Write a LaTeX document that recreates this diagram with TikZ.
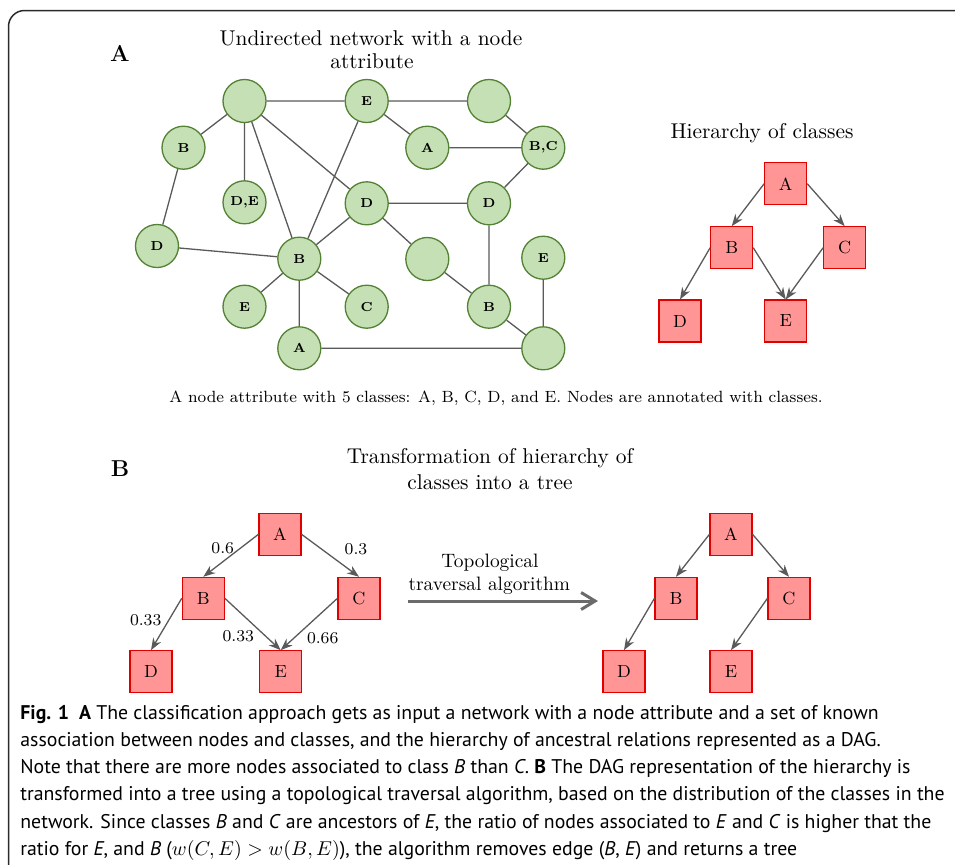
\documentclass[tikz,border=0pt]{standalone}
\usepackage{fontspec}
\newfontfamily\capfont{PT Sans}
\usetikzlibrary{arrows.meta}
\definecolor{gfill}{HTML}{C5E0B4}
\definecolor{gline}{HTML}{548235}
\definecolor{rfill}{HTML}{FF9595}
\definecolor{rline}{HTML}{E00000}
\definecolor{eline}{HTML}{5A5A5A}
\definecolor{frame}{HTML}{2A2A2A}
\begin{document}
\begin{tikzpicture}[x=0.5pt,y=-0.5pt,
  gnode/.style={circle,draw=gline,fill=gfill,line width=0.65pt,minimum size=21.5pt,inner sep=0pt,font=\fontsize{6.5}{7.5}\selectfont\bfseries},
  cbox/.style={rectangle,draw=rline,fill=rfill,line width=0.55pt,minimum size=21pt,inner sep=0pt,font=\fontsize{8.8}{10}\selectfont},
  gedge/.style={draw=eline,line width=0.65pt},
  darr/.style={draw=eline,line width=0.65pt,-{Stealth[length=6pt,width=4.5pt]}},
  ttl/.style={anchor=base,inner sep=0pt,font=\fontsize{10.7}{12}\selectfont},
  panel/.style={anchor=base,inner sep=0pt,font=\fontsize{11.5}{13}\selectfont\bfseries},
  wlab/.style={inner sep=0pt,font=\fontsize{8.3}{10}\selectfont},
  capline/.style={anchor=base west,inner sep=0pt,font=\capfont\fontsize{9.9}{11}\selectfont}]
\clip (0,0) rectangle (955,864);
\fill[white] (0,0) rectangle (955,864);
\draw[frame,line width=0.75pt,rounded corners=8pt] (8.5,10.5) rectangle (1050,950);

% Panel A
\node[panel] (pa) at (120,61) {A};
\node[ttl] (t1) at (371,45) {Undirected network with a node};
\node[ttl] (t2) at (372,68) {attribute};

\node[gnode] (n1) at (244.5,101) {};
\node[gnode] (eT) at (366.7,101) {E};
\node[gnode] (n2) at (489,101) {};
\node[gnode] (bL) at (183.5,147.7) {B};
\node[gnode] (aM) at (427.3,147.7) {A};
\node[gnode] (bc) at (543.3,147.7) {B,C};
\node[gnode] (de) at (244.5,202.3) {D,E};
\node[gnode] (dM) at (366.7,203.3) {D};
\node[gnode] (dR) at (489,203.3) {D};
\node[gnode] (dL) at (157,246) {D};
\node[gnode] (bC) at (299.3,258.7) {B};
\node[gnode] (n3) at (427.3,259) {};
\node[gnode] (eR) at (543.3,257.7) {E};
\node[gnode] (eB) at (244.5,306.7) {E};
\node[gnode] (cN) at (366.7,306.7) {C};
\node[gnode] (bB) at (489,306.7) {B};
\node[gnode] (aB) at (299.3,348.3) {A};
\node[gnode] (n4) at (543.3,348.3) {};

\path[gedge] (n1) -- (eT) (n1) -- (bL) (n1) -- (de) (n1) -- (bC) (n1) -- (dM)
  (eT) -- (n2) (eT) -- (aM) (eT) -- (bC) (n2) -- (bc) (aM) -- (bc) (bc) -- (dR)
  (dM) -- (dR) (dM) -- (bC) (dM) -- (n3) (n3) -- (bB) (dR) -- (bB)
  (bL) -- (dL) (dL) -- (bC) (bC) -- (eB) (bC) -- (cN) (bC) -- (aB)
  (aB) -- (n4) (bB) -- (n4) (eR) -- (n4);

\node[wlab,anchor=base,font=\fontsize{8.13}{10}\selectfont] (capA) at (496,402) {A node attribute with 5 classes: A, B, C, D, and E. Nodes are annotated with classes.};

% Hierarchy
\node[ttl] (ht) at (762,138) {Hierarchy of classes};
\node[cbox] (hA) at (785.7,183.7) {A};
\node[cbox] (hB) at (731.7,247.7) {B};
\node[cbox] (hC) at (844.7,247.7) {C};
\node[cbox] (hD) at (680,321) {D};
\node[cbox] (hE) at (785.7,321) {E};
\draw[darr] (hA.west) -- (hB.north);
\draw[darr] (hA.east) -- (hC.north);
\draw[darr] (hB.west) -- (hD.north);
\draw[darr] (hB.east) -- (hE.north);
\draw[darr] (hC.west) -- (hE.north);

% Panel B
\node[panel] (pb) at (120,476) {B};
\node[ttl] (t3) at (490,463) {Transformation of hierarchy of};
\node[ttl] (t4) at (490,489) {classes into a tree};

\node[cbox] (lA) at (280,534.3) {A};
\node[cbox] (lB) at (203.3,598.3) {B};
\node[cbox] (lC) at (359,598.3) {C};
\node[cbox] (lD) at (151,671.7) {D};
\node[cbox] (lE) at (280.7,671.7) {E};
\draw[darr] (lA.west) -- (lB.north);
\draw[darr] (lA.east) -- (lC.north);
\draw[darr] (lB.west) -- (lD.north);
\draw[darr] (lB.east) -- (lE.north);
\draw[darr] (lC.west) -- (lE.north);
\node[wlab] (w1) at (222.7,547.7) {0.6};
\node[wlab] (w2) at (356,549.3) {0.3};
\node[wlab] (w3) at (145.7,620) {0.33};
\node[wlab] (w4) at (238.3,636) {0.33};
\node[wlab] (w5) at (322.7,637.7) {0.66};

\node[wlab,font=\fontsize{9.7}{11}\selectfont] (tp1) at (490,562.7) {Topological};
\node[wlab,font=\fontsize{9.7}{11}\selectfont] (tp2) at (489.3,586) {traversal algorithm};
\coordinate (ts) at (408,601);
\coordinate (te) at (598,601);
\draw[draw=eline!90,line width=1.5pt,-{Straight Barb[length=7pt,width=8.5pt]}] (ts) -- (te);

\node[cbox] (rA) at (731,534.3) {A};
\node[cbox] (rB) at (676,598.3) {B};
\node[cbox] (rC) at (789,598.3) {C};
\node[cbox] (rD) at (624,671.7) {D};
\node[cbox] (rE) at (731,671.7) {E};
\draw[darr] (rA.west) -- (rB.north);
\draw[darr] (rA.east) -- (rC.north);
\draw[darr] (rB.west) -- (rD.north);
\draw[darr] (rC.west) -- (rE.north);

% Caption
\node[capline] (c1) at (20,719) {\textbf{Fig. 1}\enspace\textbf{A} The classification approach gets as input a network with a node attribute and a set of known};
\node[capline] (c2) at (20,746) {association between nodes and classes, and the hierarchy of ancestral relations represented as a DAG.};
\node[capline] (c3) at (20,773) {Note that there are more nodes associated to class \textit{B} than \textit{C}. \textbf{B} The DAG representation of the hierarchy is};
\node[capline] (c4) at (20,800) {transformed into a tree using a topological traversal algorithm, based on the distribution of the classes in the};
\node[capline] (c5) at (20,828) {network. Since classes \textit{B} and \textit{C} are ancestors of \textit{E}, the ratio of nodes associated to \textit{E} and \textit{C} is higher that the};
\node[capline] (c6) at (20,855) {ratio for \textit{E}, and \textit{B} ($w(C, E) > w(B, E)$), the algorithm removes edge (\textit{B}, \textit{E}) and returns a tree};
\end{tikzpicture}
\end{document}
